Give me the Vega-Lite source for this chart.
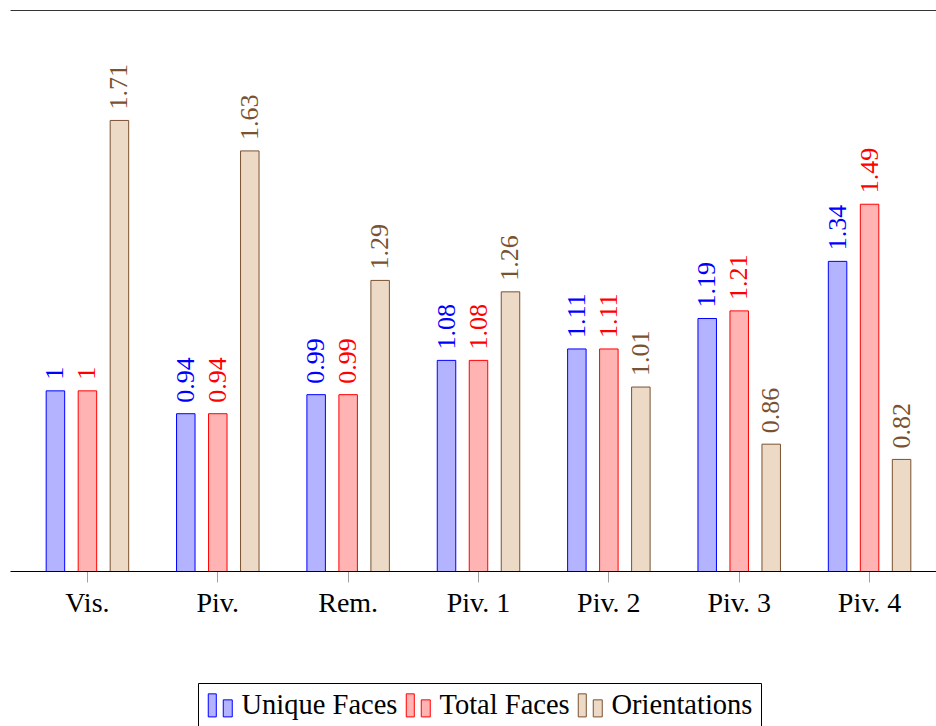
{
  "$schema": "https://vega.github.io/schema/vega-lite/v6.json",
  "autosize": {"type": "none"},
  "padding": {"left": 10, "top": 10, "right": 0, "bottom": 155},
  "width": 926,
  "height": 561,
  "background": "white",
  "config": {
    "view": {"stroke": null},
    "font": "Liberation Serif, DejaVu Serif, serif",
    "axis": {"grid": false, "title": null},
    "legend": {"labelFont": "Liberation Serif, DejaVu Serif, serif"},
    "text": {"font": "Liberation Serif, DejaVu Serif, serif"}
  },
  "data": {
    "values": [
      {"cat": "Vis.", "series": "Unique Faces", "value": 1},
      {"cat": "Vis.", "series": "Total Faces", "value": 1},
      {"cat": "Vis.", "series": "Orientations", "value": 1.71},
      {"cat": "Piv.", "series": "Unique Faces", "value": 0.94},
      {"cat": "Piv.", "series": "Total Faces", "value": 0.94},
      {"cat": "Piv.", "series": "Orientations", "value": 1.63},
      {"cat": "Rem.", "series": "Unique Faces", "value": 0.99},
      {"cat": "Rem.", "series": "Total Faces", "value": 0.99},
      {"cat": "Rem.", "series": "Orientations", "value": 1.29},
      {"cat": "Piv. 1", "series": "Unique Faces", "value": 1.08},
      {"cat": "Piv. 1", "series": "Total Faces", "value": 1.08},
      {"cat": "Piv. 1", "series": "Orientations", "value": 1.26},
      {"cat": "Piv. 2", "series": "Unique Faces", "value": 1.11},
      {"cat": "Piv. 2", "series": "Total Faces", "value": 1.11},
      {"cat": "Piv. 2", "series": "Orientations", "value": 1.01},
      {"cat": "Piv. 3", "series": "Unique Faces", "value": 1.19},
      {"cat": "Piv. 3", "series": "Total Faces", "value": 1.21},
      {"cat": "Piv. 3", "series": "Orientations", "value": 0.86},
      {"cat": "Piv. 4", "series": "Unique Faces", "value": 1.34},
      {"cat": "Piv. 4", "series": "Total Faces", "value": 1.49},
      {"cat": "Piv. 4", "series": "Orientations", "value": 0.82}
    ]
  },
  "encoding": {
    "x": {
      "field": "cat", "type": "nominal", "sort": null,
      "scale": {"range": [0, 937], "paddingInner": 0, "paddingOuter": 0.094}
    },
    "xOffset": {
      "field": "series", "type": "nominal",
      "scale": {"domain": ["Unique Faces", "Total Faces", "Orientations"], "paddingInner": 0.422, "paddingOuter": 0.748}
    },
    "y": {
      "field": "value", "type": "quantitative",
      "scale": {"domain": [0.527, 2.0], "zero": false, "nice": false}
    }
  },
  "layer": [
    {
      "mark": {"type": "bar", "strokeWidth": 1, "clip": true},
      "encoding": {
        "x": {
          "field": "cat", "type": "nominal", "sort": null,
          "axis": {"orient": "bottom", "labelAngle": 0, "labelFont": "Liberation Serif, DejaVu Serif, serif", "labelFontSize": 28, "labelColor": "black", "labelPadding": 7, "tickColor": "#a0a0a0", "tickSize": 11, "tickWidth": 1, "domainColor": "black", "domainWidth": 1}
        },
        "y": {
          "field": "value", "type": "quantitative",
          "axis": {"ticks": false, "labels": false, "domainColor": "black", "domainWidth": 1}
        },
        "fill": {
          "field": "series", "type": "nominal",
          "scale": {"domain": ["Unique Faces", "Total Faces", "Orientations"], "range": ["#b3b3ff", "#ffb3b3", "#ecd9c6"]},
          "legend": {
            "title": null, "orient": "none", "legendX": 188, "legendY": 673,
            "direction": "horizontal",
            "symbolType": "M-1,-0.96H-0.33V0.96H-1Z M0.25,-0.46H1V0.96H0.25Z",
            "symbolSize": 576, "symbolStrokeWidth": 1,
            "labelFont": "Liberation Serif, DejaVu Serif, serif", "labelFontSize": 28.5, "labelColor": "black",
            "labelOffset": 7, "columnPadding": 6, "padding": 8,
            "strokeColor": "black", "fillColor": "white"
          }
        },
        "stroke": {
          "field": "series", "type": "nominal",
          "scale": {"domain": ["Unique Faces", "Total Faces", "Orientations"], "range": ["#0000ff", "#ff0000", "#7a5230"]},
          "legend": {
            "title": null, "orient": "none", "legendX": 188, "legendY": 673,
            "direction": "horizontal",
            "symbolType": "M-1,-0.96H-0.33V0.96H-1Z M0.25,-0.46H1V0.96H0.25Z",
            "symbolSize": 576, "symbolStrokeWidth": 1,
            "labelFont": "Liberation Serif, DejaVu Serif, serif", "labelFontSize": 28.5, "labelColor": "black",
            "labelOffset": 7, "columnPadding": 6, "padding": 8,
            "strokeColor": "black", "fillColor": "white"
          }
        }
      }
    },
    {
      "mark": {"type": "text", "angle": 270, "align": "left", "baseline": "middle", "dx": 11, "font": "Liberation Serif, DejaVu Serif, serif", "fontSize": 26},
      "encoding": {
        "x": {
          "field": "cat", "type": "nominal", "sort": null,
          "axis": {"orient": "top", "labels": false, "ticks": false, "domainColor": "#333", "domainWidth": 1}
        },
        "y": {"field": "value", "type": "quantitative", "axis": null},
        "text": {"field": "value", "type": "quantitative", "format": ""},
        "color": {
          "field": "series", "type": "nominal",
          "scale": {"domain": ["Unique Faces", "Total Faces", "Orientations"], "range": ["#0000ff", "#ff0000", "#7a5230"]},
          "legend": null
        }
      }
    }
  ],
  "resolve": {"axis": {"x": "independent"}}
}
